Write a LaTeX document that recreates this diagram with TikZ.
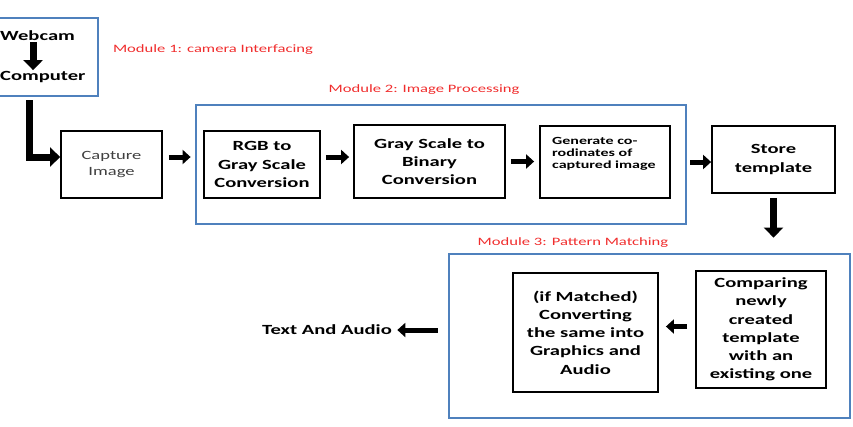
\documentclass[tikz,border=0pt]{standalone}
\usepackage{fontspec}
\setmainfont{Carlito}[FakeStretch=1.47]
\usepackage{tikz}
\usetikzlibrary{arrows.meta}

\definecolor{modblue}{RGB}{79,129,189}
\definecolor{modred}{RGB}{240,45,45}

\begin{document}
\begin{tikzpicture}[x=1pt, y=-1pt,
    box/.style={draw=black, line width=1.8pt, align=center, inner sep=0pt,
        font=\fontsize{14}{18.3}\selectfont\bfseries},
    module/.style={draw=modblue, line width=2.8pt, inner sep=0pt},
    modlabel/.style={text=modred, font=\fontsize{11.3}{13}\selectfont},
    fat/.style={line width=7pt, -{Triangle[length=10pt, width=19pt]}},
    slim/.style={line width=5pt, -{Triangle[length=8pt, width=14pt]}}]
    \useasboundingbox (0,0) rectangle (853,426);

    % Modules
    \node[module, minimum width=106, minimum height=78] (mod1) at (45,57) {};
    \node[module, minimum width=490, minimum height=119] (mod2) at (441,164.5) {};
    \node[module, minimum width=401, minimum height=164] (mod3) at (649.5,336) {};
    \node[modlabel] (lab1) at (213,50) {Module 1: camera Interfacing};
    \node[modlabel] (lab2) at (424,90) {Module 2: Image Processing};
    \node[modlabel] (lab3) at (573,243) {Module 3: Pattern Matching};

    % Nodes
    \node[anchor=west, inner sep=0pt, font=\fontsize{14}{16}\selectfont\bfseries] (webcam) at (0,36) {Webcam};
    \node[anchor=west, inner sep=0pt, font=\fontsize{14}{16}\selectfont\bfseries] (computer) at (0,77) {Computer};
    \node[box, minimum width=101, minimum height=67, text=black!75,
        font=\fontsize{12.6}{16}\selectfont] (capture) at (111.5,164.5) {Capture\\Image};
    \node[box, minimum width=116, minimum height=67] (rgb) at (262,164.5) {RGB to\\Gray Scale\\Conversion};
    \node[box, minimum width=151, minimum height=73] (binary) at (429.5,161.5) {Gray Scale to\\Binary\\Conversion};
    \node[box, minimum width=130, minimum height=72] (coords) at (605,162) {};
    \node[anchor=north west, align=left, inner sep=0pt,
        font=\fontsize{10.9}{12}\selectfont\bfseries] (coordtext) at (552,137) {Generate co-\\rodinates of\\captured image};
    \node[box, minimum width=123, minimum height=67] (store) at (773.5,159.5) {Store\\template};
    \node[box, minimum width=145, minimum height=119] (matched) at (585.5,332.5) {(if Matched)\\Converting\\the same into\\Graphics and\\Audio};
    \node[box, minimum width=130, minimum height=117] (compare) at (761,329.5) {Comparing\\newly\\created\\template\\with an\\existing one};
    \node[font=\fontsize{14}{16}\selectfont\bfseries] (result) at (327,330) {Text And Audio};

    % Arrows
    \coordinate (bend) at (29,157);
    \draw[fat, line join=miter, shorten <=3pt] (bend |- mod1.south) -- (bend) -- ([yshift=7.5pt]capture.west);
    \draw[fat, shorten <=1pt, shorten >=1pt] ([xshift=-4.5pt]webcam.south) -- ([xshift=-4.5pt]webcam.south |- computer.north);
    \draw[slim, shorten <=6pt, shorten >=4pt] ([yshift=7.5pt]capture.east) -- ([yshift=7.5pt]capture.east -| mod2.west);
    \draw[slim, shorten <=5pt, shorten >=4pt] ([yshift=7.5pt]rgb.east) -- ([yshift=7.5pt]rgb.east -| binary.west);
    \draw[slim, shorten <=5pt, shorten >=5pt] (binary.east) -- (binary.east -| coords.west);
    \draw[slim, shorten <=3pt, shorten >=0pt] (mod2.east |- coords.east) -- (store.west |- coords.east);
    \draw[fat, shorten <=4pt, shorten >=15pt] (store.south) -- (store.south |- mod3.north);
    \draw[slim, shorten <=8pt, shorten >=7pt] ([yshift=3pt]compare.west) -- ([yshift=3pt]compare.west -| matched.east);
    \draw[slim, shorten <=10pt, shorten >=2pt] (mod3.west |- result) -- (result);
\end{tikzpicture}
\end{document}
